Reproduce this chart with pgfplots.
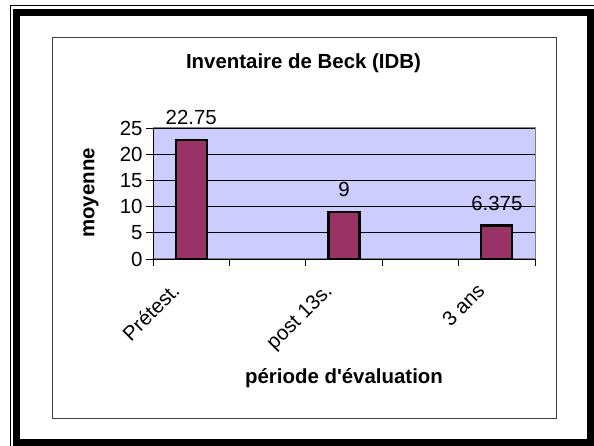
\documentclass[border=0pt]{standalone}
\usepackage{pgfplots}
\pgfplotsset{compat=1.18}
\usepackage{fontspec}
\setmainfont{Liberation Sans}
\definecolor{barfill}{HTML}{993366}
\definecolor{plotbg}{HTML}{CCCCFF}
\begin{document}
\begin{tikzpicture}[x=1bp,y=1bp,font=\fontsize{20.5}{24}\selectfont]
\useasboundingbox (0,0) rectangle (594,446);
% page frame
\draw[line width=0.8bp] (10,-5) -- (10,441) -- (600,441);
\draw[line width=7bp] (16.5,3.5) rectangle (590.5,433.5);
% chart area
\draw[line width=1bp, black!75] (52,27) rectangle (556,408);
\begin{axis}[
  at={(153bp,187bp)}, anchor=south west,
  scale only axis, width=382bp, height=131bp,
  xmin=0, xmax=5, ymin=0, ymax=25,
  ytick={0,5,...,25}, xtick={0,...,5}, xticklabels={},
  xtick pos=bottom, ytick pos=left,
  tick align=outside, major tick length=7bp,
  tick style={black, line width=0.7bp},
  axis background/.style={fill=plotbg},
  axis line style={draw=gray, line width=1bp},
  ymajorgrids, grid style={black, line width=0.7bp},
  /pgf/number format/assume math mode=true,
  extra x ticks={0.5,2.5,4.5},
  extra x tick labels={Prétest.,post 13s.,3 ans},
  extra x tick style={major tick length=0pt, grid=none,
    tick label style={xshift=-21bp, yshift=-18bp, rotate=45, anchor=north east}},
  clip=false,
]
\addplot[ybar, bar width=31bp, fill=barfill, draw=black, line width=2.2bp,
  nodes near coords={\pgfmathprintnumber[precision=3]{\pgfplotspointmeta}},
  nodes near coords style={anchor=base, yshift=15bp, black}]
  coordinates {(0.5,22.75) (2.5,9) (4.5,6.375)};
\draw[black, line width=0.8bp] (axis cs:0,25) -- (axis cs:0,0) -- (axis cs:5,0);
\end{axis}
\node[font=\fontsize{20.5}{24}\selectfont\bfseries] at (303.5,383) {Inventaire de Beck (IDB)};
\node[font=\fontsize{20.5}{24}\selectfont\bfseries] at (344,68) {période d\textquotesingle évaluation};
\node[font=\fontsize{20.5}{24}\selectfont\bfseries, rotate=90] at (91,253) {moyenne};
\end{tikzpicture}
\end{document}
